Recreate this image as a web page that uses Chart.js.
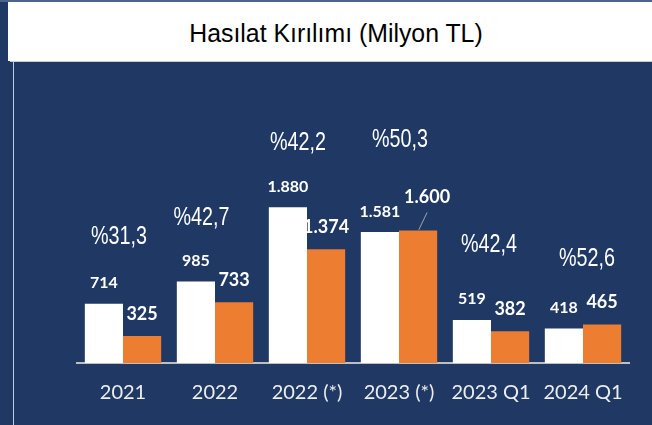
<!DOCTYPE html>
<html>
<head>
<meta charset="utf-8">
<script src="https://cdn.jsdelivr.net/npm/chart.js@4"></script>
<style>
  html, body { margin:0; padding:0; background:#1f3864; }
  #wrap { position:relative; width:652px; height:425px; overflow:hidden; background:#1f3864; }
  #topline { position:absolute; left:0; top:0; width:652px; height:2px; background:#4d6491; }
  #titlebox { position:absolute; left:8px; top:2px; width:644px; height:59px; background:#ffffff; }
  #title { position:absolute; left:0; top:21px; width:672px; text-align:center;
           font-family:"Liberation Sans",Arial,sans-serif; font-size:25.6px; line-height:25.6px;
           color:#000; white-space:nowrap; transform:scaleX(0.97); transform-origin:336px 0; }
  #hline { position:absolute; left:10px; top:61px; width:642px; height:1px; background:#c3cbdc; }
  #vline { position:absolute; left:13px; top:62px; width:1px; height:363px; background:#c3cbdc; }
  canvas { position:absolute; left:0; top:0; }
</style>
</head>
<body>
<div id="wrap">
  <div id="topline"></div>
  <div id="titlebox"></div>
  <div id="hline"></div>
  <div id="vline"></div>
  <div id="title">Hasılat Kırılımı (Milyon TL)</div>
  <canvas id="c" width="652" height="425"></canvas>
</div>
<script>
// ---- data ----
const categories = ["2021", "2022", "2022 (*)", "2023 (*)", "2023 Q1", "2024 Q1"];
const seriesWhite = [714, 985, 1880, 1581, 519, 418];
const seriesOrange = [325, 733, 1374, 1600, 382, 465];
const percentLabels = ["%31,3", "%42,7", "%42,2", "%50,3", "%42,4", "%52,6"];

// ---- styling / placement (not data) ----
const pctDx = [-4, -13.5, -9, 1, -2, 4];
const pctDy = [67, 63, 64, 90, 75, 65];
const labelLift = [20.7, 22];
const labelFont = ['bold 16px Lato', 'bold 18px Lato'];
// special leader for 2023 (*) orange label
const leader = { dataset: 1, index: 3, dx: 9, lift: 33 };

function fmt(v) {
  return String(v).replace(/\B(?=(\d{3})+(?!\d))/g, '.');
}

const labelsPlugin = {
  id: 'valueLabels',
  afterDatasetsDraw(chart) {
    const ctx = chart.ctx;
    ctx.save();
    ctx.fillStyle = '#ffffff';
    ctx.textAlign = 'center';
    ctx.textBaseline = 'middle';
    chart.data.datasets.forEach((ds, di) => {
      const meta = chart.getDatasetMeta(di);
      meta.data.forEach((bar, i) => {
        let x = bar.x, y = bar.y - labelLift[di];
        if (di === leader.dataset && i === leader.index) {
          x = bar.x + leader.dx;
          y = bar.y - leader.lift;
          ctx.save();
          ctx.strokeStyle = '#a6a6a6';
          ctx.lineWidth = 1;
          ctx.beginPath();
          ctx.moveTo(bar.x + 0.7, bar.y - 0.7);
          ctx.lineTo(bar.x + leader.dx, bar.y - 18);
          ctx.stroke();
          ctx.restore();
        }
        ctx.font = labelFont[di];
        ctx.fillText(fmt(ds.data[i]), x, y);
      });
    });
    // percentage labels (condensed)
    const xs = chart.scales.x, ys = chart.scales.y;
    const sx = 0.79;
    ctx.font = '25px "Liberation Sans", Arial, sans-serif';
    percentLabels.forEach((t, i) => {
      const top = ys.getPixelForValue(Math.max(seriesWhite[i], seriesOrange[i]));
      const px = xs.getPixelForValue(i) + pctDx[i];
      const py = top - pctDy[i];
      ctx.save();
      ctx.translate(px, py);
      ctx.scale(sx, 1);
      ctx.fillText(t, 0, 0);
      ctx.restore();
    });
    ctx.restore();
  }
};

new Chart(document.getElementById('c'), {
  type: 'bar',
  data: {
    labels: categories,
    datasets: [
      { data: seriesWhite, backgroundColor: '#ffffff', borderWidth: 0,
        categoryPercentage: 0.83, barPercentage: 1.0 },
      { data: seriesOrange, backgroundColor: '#ed7d31', borderWidth: 0,
        categoryPercentage: 0.83, barPercentage: 1.0 }
    ]
  },
  options: {
    responsive: false,
    animation: false,
    layout: { padding: { left: 77, right: 23, top: 98, bottom: 2 } },
    plugins: { legend: { display: false }, title: { display: false }, tooltip: { enabled: false } },
    scales: {
      x: {
        grid: { display: false, drawTicks: false },
        border: { display: true, color: '#bfbfbf', width: 2 },
        ticks: { color: '#eeeeee', font: { family: 'Lato', size: 20 }, padding: 18, maxRotation: 0 }
      },
      y: { display: false, min: 0, max: 3200 }
    }
  },
  plugins: [labelsPlugin]
});
</script>
</body>
</html>
